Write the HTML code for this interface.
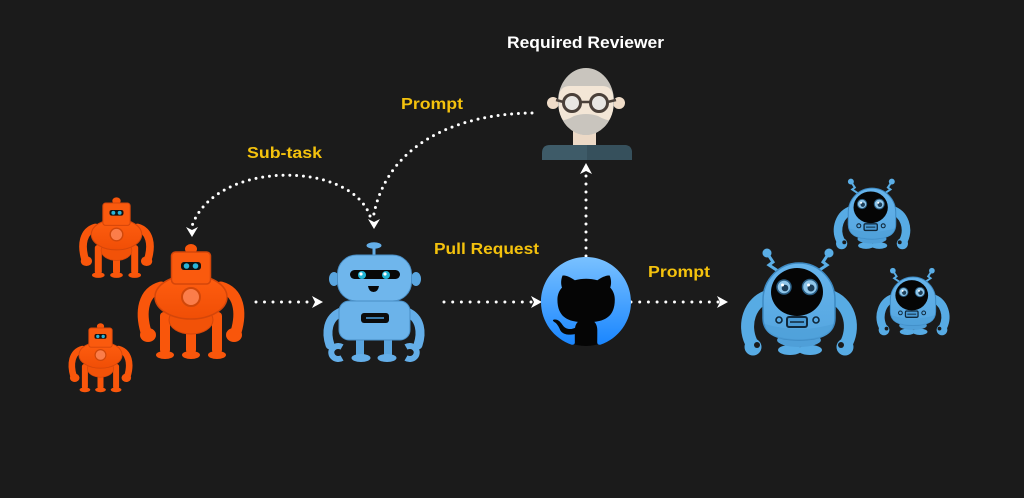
<!DOCTYPE html>
<html><head><meta charset="utf-8"><style>
html,body{margin:0;padding:0;background:#1b1b1b;}
svg{display:block;}
text{font-family:"Liberation Sans",sans-serif;font-weight:bold;}
</style></head><body>
<svg width="1024" height="498" viewBox="0 0 1024 498" xmlns="http://www.w3.org/2000/svg">
<defs>
<linearGradient id="gh" x1="0" y1="0" x2="0" y2="1"><stop offset="0" stop-color="#79c1ff"/><stop offset="1" stop-color="#1a86ff"/></linearGradient>
<linearGradient id="ob" x1="0" y1="0" x2="0" y2="1"><stop offset="0" stop-color="#ff5e10"/><stop offset="1" stop-color="#f04e06"/></linearGradient>
<linearGradient id="ab" x1="0" y1="0" x2="0" y2="1"><stop offset="0" stop-color="#66b4ec"/><stop offset="1" stop-color="#55a6e0"/></linearGradient>
<g id="orobot">
  <ellipse cx="0" cy="-3" rx="6" ry="5" fill="#f9560b"/>
  <path d="M-30,35 C-48,40 -51,60 -45,80" stroke="#f9560b" stroke-width="11" fill="none" stroke-linecap="round"/>
  <path d="M30,35 C48,40 51,60 45,80" stroke="#f9560b" stroke-width="11" fill="none" stroke-linecap="round"/>
  <ellipse cx="-43" cy="83" rx="8" ry="7" fill="#f9560b"/>
  <ellipse cx="43" cy="83" rx="8" ry="7" fill="#f9560b"/>
  <rect x="-31" y="60" width="10" height="42" rx="4" fill="#f9560b"/>
  <rect x="-5" y="60" width="10" height="42" rx="4" fill="#f9560b"/>
  <rect x="21" y="60" width="10" height="42" rx="4" fill="#f9560b"/>
  <ellipse cx="-26" cy="103" rx="9" ry="4" fill="#f9560b"/>
  <ellipse cx="0" cy="103" rx="9" ry="4" fill="#f9560b"/>
  <ellipse cx="26" cy="103" rx="9" ry="4" fill="#f9560b"/>
  <ellipse cx="0" cy="68" rx="22" ry="14" fill="#f25208" stroke="#d4460a" stroke-width="1"/>
  <ellipse cx="0" cy="45" rx="36" ry="22" fill="url(#ob)" stroke="#d4460a" stroke-width="1.5"/>
  <circle cx="0" cy="45" r="9" fill="#fb7d4a" stroke="#d0470a" stroke-width="2"/>
  <rect x="-19.5" y="0" width="39" height="32" rx="4" fill="#fa5a0e" stroke="#d4460a" stroke-width="1.5"/>
  <rect x="-10" y="10" width="20" height="8" rx="3" fill="#111"/>
  <circle cx="-4.5" cy="14" r="2.8" fill="#2bb4d8"/>
  <circle cx="4.5" cy="14" r="2.8" fill="#2bb4d8"/>
</g>
<g id="alien">
  <polyline points="-32,-37 -26,-28 -30,-25 -21,-19" stroke="#5aaee6" stroke-width="3" fill="none"/>
  <polyline points="30,-37 24,-28 28,-25 19,-19" stroke="#5aaee6" stroke-width="3" fill="none"/>
  <circle cx="-32" cy="-37" r="4.5" fill="#5aaee6"/>
  <circle cx="30" cy="-37" r="4.5" fill="#5aaee6"/>
  <path d="M-30,6 C-50,12 -56,35 -48,52" stroke="#57abe4" stroke-width="13" fill="none" stroke-linecap="round"/>
  <path d="M30,6 C50,12 56,35 48,52" stroke="#57abe4" stroke-width="13" fill="none" stroke-linecap="round"/>
  <circle cx="-46" cy="57" r="8.5" fill="#57abe4"/>
  <circle cx="-42" cy="55" r="3" fill="#1b1b1b"/>
  <circle cx="46" cy="57" r="8.5" fill="#57abe4"/>
  <circle cx="42" cy="55" r="3" fill="#1b1b1b"/>
  <ellipse cx="-9" cy="60" rx="12" ry="5" fill="#57abe4"/>
  <ellipse cx="11" cy="60" rx="12" ry="5" fill="#57abe4"/>
  <ellipse cx="0" cy="50" rx="22" ry="7" fill="#4f9fd8"/>
  <path d="M-36,10 A36,37 0 0,1 36,10 L36,28 Q36,50 0,50 Q-36,50 -36,28 Z" fill="url(#ab)" stroke="#3d89c2" stroke-width="1.5"/>
  <path d="M-34,34 Q0,44 34,34 Q34,50 0,50 Q-34,50 -34,34 Z" fill="#4f9fd8" opacity="0.7"/>
  <ellipse cx="-2" cy="2" rx="26" ry="24" fill="#050505"/>
  <circle cx="-15" cy="-3" r="7" fill="#8fc6ea" stroke="#2a5f86" stroke-width="1.5"/>
  <circle cx="11" cy="-3" r="7.5" fill="#8fc6ea" stroke="#2a5f86" stroke-width="1.5"/>
  <circle cx="-14" cy="-2" r="3.3" fill="#1d3e58"/>
  <circle cx="12" cy="-2" r="3.5" fill="#1d3e58"/>
  <circle cx="-16.5" cy="-5" r="1.5" fill="#fff"/>
  <circle cx="9.5" cy="-5" r="1.5" fill="#fff"/>
  <rect x="-12" y="27" width="20" height="10" rx="2" fill="#4a9ad4" stroke="#10283b" stroke-width="2"/>
  <line x1="-9" y1="32" x2="5" y2="32" stroke="#10283b" stroke-width="1.5"/>
  <circle cx="-20" cy="30" r="3" fill="none" stroke="#10283b" stroke-width="1.6"/>
  <circle cx="17" cy="30" r="3" fill="none" stroke="#10283b" stroke-width="1.6"/>
</g>
</defs>
<rect width="1024" height="498" fill="#1b1b1b"/>

<!-- dotted connectors -->
<g stroke="#fff" stroke-width="3" stroke-linecap="round" fill="none">
  <line x1="256" y1="302" x2="313" y2="302" stroke-dasharray="0 8.5"/>
  <line x1="444" y1="302" x2="532" y2="302" stroke-dasharray="0 8.7"/>
  <line x1="631" y1="302" x2="718" y2="302" stroke-dasharray="0 8.7"/>
  <line x1="586" y1="256" x2="586" y2="173" stroke-dasharray="0 8"/>
  <path d="M532,113 C455,114 385,145 373,219" stroke-dasharray="0 6.8"/>
  <path d="M370,216 C350,160 215,160 192,226" stroke-dasharray="0 6.8"/>
</g>
<g fill="#fff">
  <polygon points="323,302 312,296 315,302 312,308"/>
  <polygon points="542,302 531,296 534,302 531,308"/>
  <polygon points="728,302 717,296 720,302 717,308"/>
  <polygon points="586,163 580,174 586,171 592,174"/>
  <polygon points="374,229 368,219 374,222 380,219"/>
  <polygon points="192,237 186,227 192,230 198,227"/>
</g>

<!-- labels -->
<text x="507" y="48" font-size="17" fill="#fff" textLength="157" lengthAdjust="spacingAndGlyphs">Required Reviewer</text>
<text x="401" y="109" font-size="15.5" fill="#f4c20d" textLength="62" lengthAdjust="spacingAndGlyphs">Prompt</text>
<text x="247" y="158" font-size="15.5" fill="#f4c20d" textLength="75" lengthAdjust="spacingAndGlyphs">Sub-task</text>
<text x="434" y="254" font-size="15.5" fill="#f4c20d" textLength="105" lengthAdjust="spacingAndGlyphs">Pull Request</text>
<text x="648" y="277" font-size="15.5" fill="#f4c20d" textLength="62" lengthAdjust="spacingAndGlyphs">Prompt</text>

<!-- orange robots -->
<use href="#orobot" transform="translate(116.5,203) scale(0.7)"/>
<use href="#orobot" transform="translate(100.5,328) scale(0.6)"/>
<use href="#orobot" transform="translate(191,252)"/>

<!-- blue robot -->
<g>
  <line x1="374" y1="247" x2="374" y2="256" stroke="#64aee8" stroke-width="3"/>
  <ellipse cx="374" cy="245.5" rx="7.5" ry="3.2" fill="#64aee8"/>
  <ellipse cx="334" cy="279" rx="5" ry="7" fill="#5aa6e0"/>
  <ellipse cx="416" cy="279" rx="5" ry="7" fill="#5aa6e0"/>
  <path d="M341,312 C327,318 326,333 330,345" stroke="#64aee8" stroke-width="9" fill="none" stroke-linecap="round"/>
  <path d="M407,312 C421,318 422,333 418,345" stroke="#64aee8" stroke-width="9" fill="none" stroke-linecap="round"/>
  <path d="M342,347 A7,6.5 0 1,0 342,358" stroke="#64aee8" stroke-width="6" fill="none"/>
  <path d="M406,347 A7,6.5 0 1,1 406,358" stroke="#64aee8" stroke-width="6" fill="none"/>
  <rect x="356" y="336" width="8" height="20" fill="#5aa6e0"/>
  <rect x="384" y="336" width="8" height="20" fill="#5aa6e0"/>
  <ellipse cx="361" cy="358" rx="9.5" ry="4" fill="#64aee8"/>
  <ellipse cx="387" cy="358" rx="9.5" ry="4" fill="#64aee8"/>
  <rect x="339" y="301" width="71" height="39" rx="10" fill="#6bb3ea" stroke="#4a8fc6" stroke-width="1"/>
  <rect x="361" y="313" width="28" height="10" rx="3" fill="#0b0b0b"/>
  <line x1="366" y1="318" x2="384" y2="318" stroke="#4aa0e0" stroke-width="1.5"/>
  <rect x="337.5" y="255" width="74" height="46" rx="19" fill="#6fb6ec" stroke="#4a8fc6" stroke-width="1"/>
  <rect x="350" y="270" width="50" height="9" rx="4.5" fill="#080808"/>
  <circle cx="362" cy="275" r="4" fill="#1fb5d6"/>
  <circle cx="386" cy="275" r="4" fill="#1fb5d6"/>
  <circle cx="361" cy="274" r="1.6" fill="#fff"/>
  <circle cx="385" cy="274" r="1.6" fill="#fff"/>
  <path d="M368,286 L379,286 Q378,292 373.5,292 Q369,292 368,286 Z" fill="#080808"/>
</g>

<!-- reviewer -->
<g>
  <rect x="573" y="126" width="23" height="22" fill="#ecd9c6"/>
  <path d="M542,160 L542,153 Q542,145 550,145 L624,145 Q632,145 632,153 L632,160 Z" fill="#3e5b68"/>
  <path d="M587,145 L624,145 Q632,145 632,153 L632,160 L587,160 Z" fill="#36505c"/>
  <circle cx="553" cy="103" r="6" fill="#efdcc8"/>
  <circle cx="619" cy="103" r="6" fill="#efdcc8"/>
  <clipPath id="hc"><ellipse cx="586" cy="101.5" rx="28" ry="33.5"/></clipPath>
  <g clip-path="url(#hc)">
    <rect x="555" y="65" width="64" height="75" fill="#c9c5be"/>
    <rect x="559" y="86" width="54" height="36" rx="10" fill="#f3e6d6"/>
    <path d="M556,121 Q566,121 574,116 Q586,112 598,116 Q606,121 616,121 L616,140 L556,140 Z" fill="#c9c5be"/>
  </g>
  <circle cx="572" cy="103" r="8.5" fill="#e8e6e2" stroke="#4a4039" stroke-width="3"/>
  <circle cx="599" cy="103" r="8.5" fill="#e8e6e2" stroke="#4a4039" stroke-width="3"/>
  <line x1="580.5" y1="102" x2="590.5" y2="102" stroke="#4a4039" stroke-width="2.5"/>
  <line x1="556" y1="100" x2="563.5" y2="102" stroke="#4a4039" stroke-width="2.5"/>
  <line x1="607.5" y1="102" x2="616" y2="100" stroke="#4a4039" stroke-width="2.5"/>
</g>

<!-- github -->
<circle cx="586" cy="302" r="44" fill="#050505"/>
<path transform="translate(541,257) scale(5.625)" fill="url(#gh)" fill-rule="evenodd" d="M8 0C3.58 0 0 3.58 0 8c0 3.54 2.29 6.53 5.47 7.59.4.07.55-.17.55-.38 0-.19-.01-.82-.01-1.49-2.01.37-2.530-.49-2.690-.94-.09-.23-.48-.94-.82-1.130-.28-.15-.68-.52-.01-.53.63-.01 1.08.58 1.23.82.72 1.21 1.87.87 2.33.66.07-.52.28-.87.51-1.07-1.78-.2-3.64-.89-3.64-3.95 0-.87.31-1.590.82-2.150-.08-.2-.36-1.02.08-2.12 0 0 .67-.21 2.2.82.64-.18 1.32-.27 2-.27.68 0 1.36.09 2 .27 1.53-1.04 2.2-.82 2.2-.82.44 1.1.16 1.92.08 2.12.51.56.82 1.27.82 2.15 0 3.070-1.87 3.75-3.65 3.95.29.25.54.73.54 1.48 0 1.07-.01 1.93-.01 2.2 0 .21.15.46.55.38A8.013 8.013 0 0016 8c0-4.42-3.58-8-8-8z"/>

<!-- aliens -->
<use href="#alien" transform="translate(872,206) scale(0.66)"/>
<use href="#alien" transform="translate(913,294) scale(0.63)"/>
<use href="#alien" transform="translate(799,290)"/>
</svg>
</body></html>
